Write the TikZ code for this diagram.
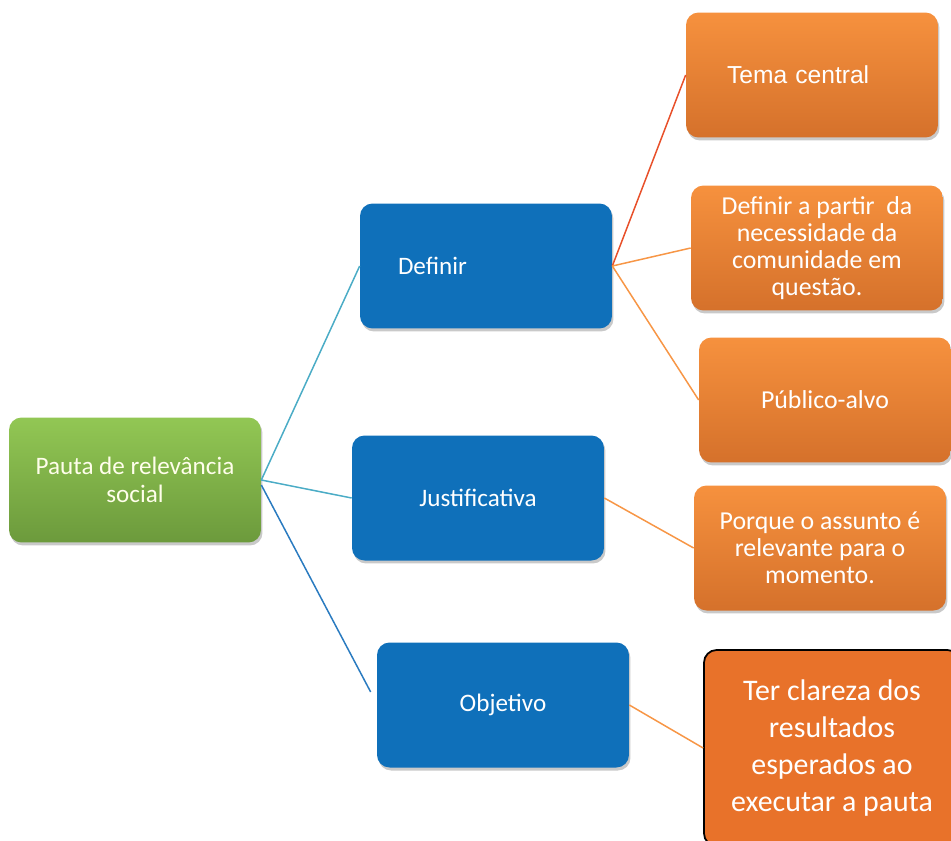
\documentclass[tikz,border=0pt]{standalone}
\usepackage{fontspec}
\setmainfont{Carlito}
\newfontfamily\arialfont{Liberation Sans}
\usetikzlibrary{shadows}

\definecolor{rootTop}{RGB}{146,199,84}
\definecolor{rootBot}{RGB}{108,154,60}
\definecolor{topicBlue}{RGB}{15,112,186}
\definecolor{detailTop}{RGB}{246,145,62}
\definecolor{detailBot}{RGB}{213,113,43}
\definecolor{goalFill}{RGB}{232,114,42}
\definecolor{cyanLine}{RGB}{75,172,198}
\definecolor{blueLine}{RGB}{42,123,192}
\definecolor{orangeLine}{RGB}{247,150,70}
\definecolor{redLine}{RGB}{232,80,42}

\begin{document}
\begin{tikzpicture}[
        x=0.02cm, y=-0.02cm,
        box/.style={rectangle, rounded corners=0.25cm, minimum width=5.04cm, minimum height=2.5cm, align=center, text=white, font=\fontsize{14.3}{16}\selectfont, drop shadow={shadow xshift=0.03cm, shadow yshift=-0.06cm, opacity=0.3, fill=black!70}},
        root/.style={box, top color=rootTop, bottom color=rootBot, text=yellow!8},
        topic/.style={box, fill=topicBlue},
        detail/.style={box, top color=detailTop, bottom color=detailBot, font=\fontsize{14.7}{15.5}\selectfont},
        goal/.style={box, fill=goalFill, draw=black, line width=1pt, minimum width=5.12cm, minimum height=3.92cm, font=\fontsize{17}{21}\selectfont},
        link/.style={line width=0.85pt}
    ]
    \useasboundingbox (0,0) rectangle (951,840);

    % Root
    \node (pauta) [root] at (135,480) {Pauta de relevância\\social};

    % Topics
    \node (definir) [topic, text width=3.52cm, align=left] at (486,266) {Definir};
    \node (justif) [topic] at (478,498) {Justificativa};
    \node (objetivo) [topic] at (503,705) {Objetivo};

    % Details
    \node (tema) [detail, text width=3.4cm, align=left, font=\arialfont\fontsize{14}{17}\selectfont] at (812,75) {Tema central};
    \node (partir) [detail] at (817,248) {Definir a partir~ da\\necessidade da\\comunidade em\\questão.};
    \node (publico) [detail] at (825,400) {Público-alvo};
    \node (porque) [detail] at (820,548) {Porque o assunto é\\relevante para o\\momento.};
    \node (clareza) [goal] at (832,748) {Ter clareza dos\\resultados\\esperados ao\\executar a pauta};

    % Connectors
    \draw [link, cyanLine] (pauta.east) -- (definir.west);
    \draw [link, cyanLine] (pauta.east) -- (justif.west);
    \draw [link, blueLine] ([yshift=-0.1cm]pauta.east) -- ([xshift=-0.12cm, yshift=0.26cm]objetivo.west);
    \draw [link, redLine] (definir.east) -- (tema.west);
    \draw [link, orangeLine] (definir.east) -- (partir.west);
    \draw [link, orangeLine] (definir.east) -- (publico.west);
    \draw [link, orangeLine] (justif.east) -- (porque.west);
    \draw [link, orangeLine] (objetivo.east) -- (clareza.west);
\end{tikzpicture}
\end{document}
